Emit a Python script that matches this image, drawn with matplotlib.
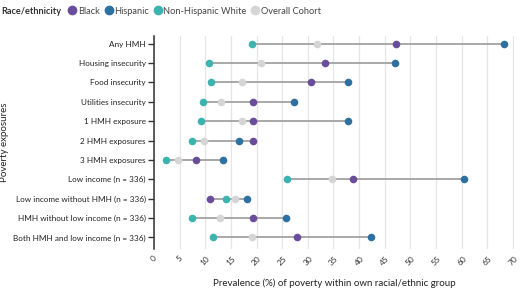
import matplotlib
matplotlib.use("Agg")
from matplotlib import pyplot as plt
from matplotlib.lines import Line2D
import numpy as np

plt.rcParams['font.family'] = ['Lato', 'DejaVu Sans']

categories = [
    "Any HMH",
    "Housing insecurity",
    "Food insecurity",
    "Utilities insecurity",
    "1 HMH exposure",
    "2 HMH exposures",
    "3 HMH exposures",
    "Low income (n = 336)",
    "Low income without HMH (n = 336)",
    "HMH without low income (n = 336)",
    "Both HMH and low income (n = 336)",
]

black = [47.2, 33.3, 30.6, 19.3, 19.3, 19.3, 8.1, 38.9, 11.0, 19.3, 27.9]
hispanic = [68.3, 47.0, 37.9, 27.3, 37.9, 16.6, 13.5, 60.5, 18.2, 25.7, 42.4]
nh_white = [19.1, 10.8, 11.2, 9.5, 9.1, 7.4, 2.3, 25.9, 14.1, 7.4, 11.6]
overall = [31.7, 20.9, 17.2, 13.0, 17.2, 9.7, 4.6, 34.8, 15.7, 12.8, 19.1]

series = [
    ("Black", black, "#6a4c9c"),
    ("Hispanic", hispanic, "#2e71a1"),
    ("Non-Hispanic White", nh_white, "#3db3af"),
    ("Overall Cohort", overall, "#d5d5d5"),
]

xticks = list(range(0, 75, 5))

fig = plt.figure(figsize=(5.2, 2.88), dpi=100)
ax = fig.add_axes([154 / 520, 1 - 249 / 288, (514 - 154) / 520, (249 - 36) / 288])

y = np.arange(len(categories))
allvals = np.array([black, hispanic, nh_white, overall])
lo = allvals.min(axis=0)
hi = allvals.max(axis=0)
ax.hlines(y, lo, hi, color="#a8a8a8", lw=1.4, zorder=2)

# overall first so the coloured dots sit on top
for name, vals, col in [series[3], series[2], series[0], series[1]]:
    ax.scatter(vals, y, s=30, color=col, zorder=3, linewidths=0)

ax.set_xlim(0, 70.2)
ax.set_ylim(len(categories) - 0.4, -0.4)
ax.set_yticks(y)
ax.set_yticklabels(categories, fontsize=5.9, color="#222222")
ax.set_xticks(xticks)
ax.set_xticklabels([str(t) for t in xticks], rotation=45, fontsize=6,
                   color="#333333", ha="center", va="top")
ax.tick_params(axis="x", length=0, pad=4)
ax.tick_params(axis="y", length=4, width=1, color="#333333", pad=2)
ax.grid(axis="x", color="#e6e6e6", lw=0.9, zorder=0)
for s in ["top", "right", "bottom"]:
    ax.spines[s].set_visible(False)
ax.spines["left"].set_color("#333333")
ax.spines["left"].set_linewidth(1.1)

ax.set_xlabel("Prevalence (%) of poverty within own racial/ethnic group",
              fontsize=7, color="#222222", labelpad=9)
ax.set_ylabel("Poverty exposures", fontsize=7, color="#222222")
ax.yaxis.set_label_coords(9 / 520, 1 - 142 / 288, transform=fig.transFigure)

fig.text(1 / 520, 1 - 11 / 288, "Race/ethnicity", fontsize=6.6,
         fontweight="bold", color="#333333", va="center")
handles = [Line2D([], [], marker="o", ls="", markersize=7, color=c,
                  markeredgewidth=0) for _, _, c in series]
fig.legend(handles, [n for n, _, _ in series], loc="center left",
           bbox_to_anchor=(63 / 520, 1 - 11 / 288), ncol=4, frameon=False,
           fontsize=6.7, handletextpad=0.1, columnspacing=0.45,
           borderpad=0, handlelength=1.0, labelcolor="#444444")

fig.savefig("out.png", dpi=100)
